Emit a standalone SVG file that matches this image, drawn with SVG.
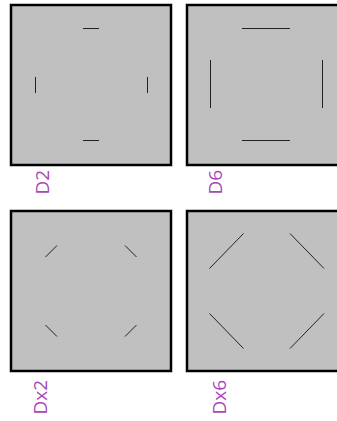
<svg xmlns="http://www.w3.org/2000/svg" width="337" height="421" viewBox="0 0 337 421">
  <style>
    .box { fill: #c0c0c0; stroke: #000; stroke-width: 2.5; }
    .mark { stroke: #222; stroke-width: 1; fill: none; }
    .lbl { font-family: "Open Sans", "Noto Sans", sans-serif; font-size: 19px; fill: #a848b8; }
  </style>
  <g id="D2">
    <rect class="box" x="11" y="5" width="160" height="160"/>
    <line class="mark" x1="83" y1="28.5" x2="99" y2="28.5"/>
    <line class="mark" x1="83" y1="140.5" x2="99" y2="140.5"/>
    <line class="mark" x1="35.5" y1="77" x2="35.5" y2="93"/>
    <line class="mark" x1="147.5" y1="77" x2="147.5" y2="93"/>
    <text class="lbl" transform="translate(49,194.5) rotate(-90)">D2</text>
  </g>
  <g id="D6">
    <rect class="box" x="187" y="5" width="160" height="160"/>
    <line class="mark" x1="242" y1="28.5" x2="290" y2="28.5"/>
    <line class="mark" x1="242" y1="140.5" x2="290" y2="140.5"/>
    <line class="mark" x1="210.5" y1="60" x2="210.5" y2="108"/>
    <line class="mark" x1="322.5" y1="60" x2="322.5" y2="108"/>
    <text class="lbl" transform="translate(222,194.5) rotate(-90)">D6</text>
  </g>
  <g id="Dx2">
    <rect class="box" x="11" y="211" width="160" height="160"/>
    <line class="mark" x1="45.5" y1="257" x2="57" y2="245.5"/>
    <line class="mark" x1="125" y1="245.5" x2="136.5" y2="257"/>
    <line class="mark" x1="45.5" y1="325" x2="57" y2="336.5"/>
    <line class="mark" x1="125" y1="336.5" x2="136.5" y2="325"/>
    <text class="lbl" transform="translate(47,414.5) rotate(-90)">Dx2</text>
  </g>
  <g id="Dx6">
    <rect class="box" x="187" y="211" width="160" height="160"/>
    <line class="mark" x1="209.5" y1="268.5" x2="243.5" y2="233.5"/>
    <line class="mark" x1="290" y1="233.5" x2="324" y2="268.5"/>
    <line class="mark" x1="209.5" y1="313.5" x2="243.5" y2="348.5"/>
    <line class="mark" x1="290" y1="348.5" x2="324" y2="313.5"/>
    <text class="lbl" transform="translate(226,414.5) rotate(-90)">Dx6</text>
  </g>
  <g id="connectors"/>
</svg>
